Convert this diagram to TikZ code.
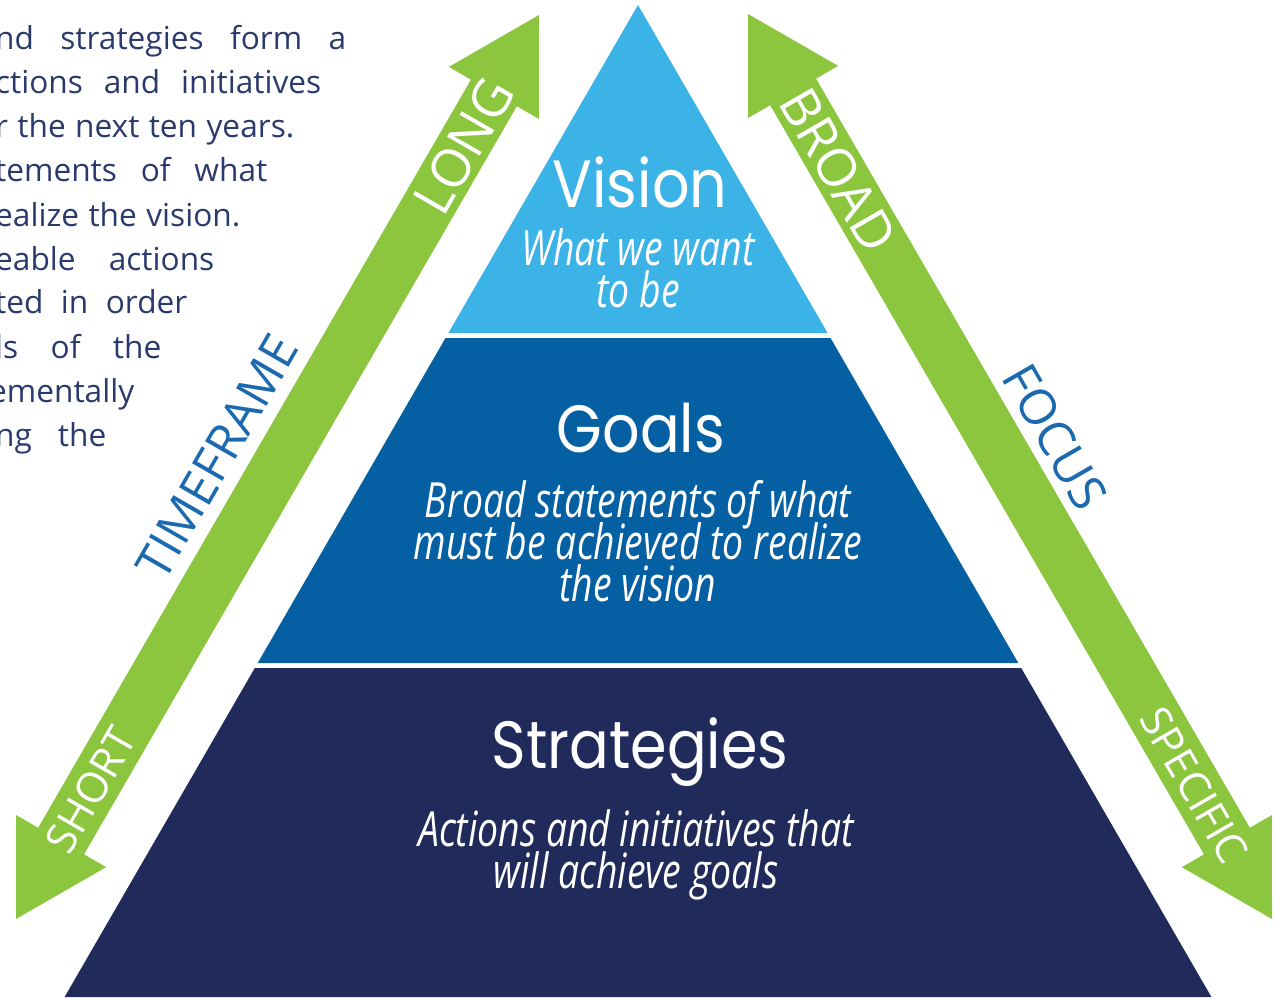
\documentclass[tikz,border=0pt]{standalone}
\usepackage{fontspec}
\setmainfont{Open Sans}
\newfontfamily\titlefont[FakeStretch=0.88]{Poppins}
\newfontfamily\descfont[FakeStretch=0.77]{Open Sans}
\newcommand\descsetup{\descfont\itshape\fontsize{13.8}{12}\selectfont\lineskiplimit=-20pt\relax}
\usetikzlibrary{arrows.meta}

\definecolor{visionblue}{HTML}{3CB3E6}
\definecolor{goalblue}{HTML}{055FA3}
\definecolor{stratnavy}{HTML}{212B5B}
\definecolor{arrowgreen}{HTML}{8CC63F}
\definecolor{introtext}{HTML}{2B3A6C}
\definecolor{labelblue}{HTML}{1B6AB0}

\begin{document}
\begin{tikzpicture}[x=0.01cm, y=-0.01cm,
  tier/.style={font=\titlefont\fontsize{19}{22}\selectfont, text=white, inner sep=0pt, anchor=base},
  tierdesc/.style={font=\descsetup, text=white, align=center, inner sep=0pt},
  intro/.style={font=\fontsize{9}{10}\selectfont, text=introtext, inner sep=0pt, anchor=base east},
  band/.style={draw=arrowgreen, line width=0.53cm,
    {Triangle[width=1.04cm,length=0.9cm,line width=0pt]}-{Triangle[width=1.04cm,length=0.9cm,line width=0pt]}},
  inband/.style={text=white, inner sep=0pt},
  outband/.style={text=labelblue, inner sep=0pt, font=\fontsize{14}{16}\selectfont}]
  \path [use as bounding box, clip] (0,0) rectangle (1276,997);

  % intro paragraph, cut at the left edge
  \node (t1) [intro] at (347,50) {\makebox[3.51cm][s]{nd strategies form a}};
  \node (t2) [intro] at (322,94) {\makebox[3.26cm][s]{ctions and initiatives}};
  \node (t3) [intro] at (295,138) {\makebox[2.99cm][s]{r the next ten years.}};
  \node (t4) [intro] at (268,182) {\makebox[2.72cm][s]{tements of what}};
  \node (t5) [intro] at (241,226) {\makebox[2.45cm][s]{ealize the vision.}};
  \node (t6) [intro] at (215,270) {\makebox[2.19cm][s]{eable actions}};
  \node (t7) [intro] at (188,314) {\makebox[1.92cm][s]{ted in order}};
  \node (t8) [intro] at (162,358) {\makebox[1.66cm][s]{ls of the}};
  \node (t9) [intro] at (135,402) {\makebox[1.39cm][r]{ementally}};
  \node (t10) [intro] at (107,446) {\makebox[1.11cm][s]{ng the}};

  % pyramid
  \fill [visionblue] (638,5) -- (827.6,333) -- (448.4,333) -- cycle;
  \fill [goalblue] (445.5,338) -- (830.5,338) -- (1018.3,663) -- (257.7,663) -- cycle;
  \fill [stratnavy] (254.8,668) -- (1021.2,668) -- (1211.4,997) -- (64.6,997) -- cycle;

  \node (vision) [tier] at (640,208) {Vision};
  \node (visiondesc) [tierdesc] at (638,268) {What we want\\to be};
  \node (goals) [tier] at (641,452) {Goals};
  \node (goalsdesc) [tierdesc] at (638,541) {Broad statements of what\\must be achieved to realize\\the vision};
  \node (strategies) [tier] at (640,768) {Strategies};
  \node (strategiesdesc) [tierdesc] at (636,855) {Actions and initiatives that\\will achieve goals};

  % green arrows
  \coordinate (shortend) at (16,919);
  \coordinate (longend) at (539,15);
  \coordinate (broadend) at (748,14);
  \coordinate (specificend) at (1272,919);
  \draw [band] (shortend) -- (longend);
  \draw [band] (broadend) -- (specificend);

  \node (long) [inband, rotate=60, font=\fontsize{15}{17}\selectfont] at (464,146) {LONG};
  \node (short) [inband, rotate=60, font=\fontsize{12}{14}\selectfont] at (91,790) {SHORT};
  \node (timeframe) [outband, rotate=60] at (217,457) {TIMEFRAME};
  \node (broad) [inband, rotate=-60, font=\fontsize{15}{17}\selectfont] at (838,170) {BROAD};
  \node (specific) [inband, rotate=-60, font=\fontsize{12}{14}\selectfont] at (1194,785) {SPECIFIC};
  \node (focus) [outband, rotate=-60] at (1055,437) {FOCUS};
\end{tikzpicture}
\end{document}
